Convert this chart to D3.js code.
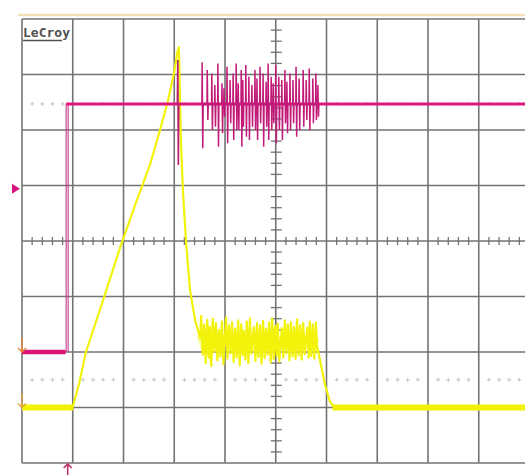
<!DOCTYPE html>
<html><head><meta charset="utf-8">
<script src="https://cdn.jsdelivr.net/npm/d3@7"></script>
<style>html,body{margin:0;padding:0;background:#fff;}svg{display:block;}</style>
</head><body>
<script>
// ---------- DATA (time and amplitude in screen divisions) ----------
const gridTimes = [0,1,2,3,4,5,6,7,8,9,10];
const gridLevels = [-4,-3,-2,-1,0,1,2,3,4];
const refLevels = [2.47, -2.5];          // dotted reference markers
const ch2Offset = 0.94;                  // magenta offset marker
const groundLevels = [-2.0, -3.0];       // left ground arrows
const triggerTime = 0.9;                 // bottom trigger arrow

// Magenta trace (channel 2): base levels, step and single spike
const magLow = -2.0, magHigh = 2.47, magStep = 0.87;
const magLowSeg = [[0,-2.0],[0.86,-2.0]];
const magHighSeg = [[0.87,2.47],[10,2.47]];
const magSpike = [[3.06,2.47],[3.07,3.26],[3.08,1.37],[3.09,2.47]];
const magBurstT  = [3.55,3.65,3.74,3.80,3.86,3.94,3.98,4.04,4.10,4.16,4.22,4.26,4.32,4.35,4.41,4.47,4.53,4.59,4.63,4.69,4.75,4.81,4.85,4.91,4.95,5.00,5.06,5.12,5.18,5.22,5.28,5.34,5.40,5.46,5.54,5.60,5.66,5.73,5.79,5.83];
const magBurstHi = [3.22,3.08,3.02,2.81,3.20,2.84,2.75,3.14,2.90,3.02,3.20,2.84,3.08,2.90,3.17,2.96,2.81,3.08,2.93,3.14,3.02,2.87,3.20,2.96,2.84,3.17,2.96,2.90,3.08,2.87,3.02,2.90,3.14,2.93,3.08,2.90,3.11,2.93,3.02,2.81];
const magBurstLo = [1.67,2.18,2.00,2.06,1.70,1.94,2.24,1.76,2.12,1.82,2.00,2.00,1.70,2.06,1.88,1.82,2.06,2.00,1.82,2.12,1.70,2.06,1.82,2.00,2.12,1.76,2.00,1.82,2.12,1.94,2.00,2.12,1.88,2.00,2.06,2.18,2.00,2.12,2.18,2.24];

// Yellow trace (channel 1)
const yelBase = -3.0;
const yelRise = [[1.00,-2.99],[1.13,-2.55],[1.26,-2.00],[1.60,-1.06],[1.93,-0.13],[2.23,0.65],[2.52,1.37],[2.72,2.00],[2.88,2.54],[3.00,3.05],[3.06,3.40],[3.09,3.49],[3.11,2.72],[3.13,1.82],[3.17,0.92],[3.23,0.02],[3.31,-0.88],[3.41,-1.42],[3.51,-1.75]];
const yelBurstT  = [3.53,3.59,3.65,3.70,3.76,3.82,3.88,3.94,4.02,4.08,4.14,4.20,4.26,4.32,4.37,4.43,4.49,4.57,4.63,4.69,4.75,4.81,4.87,4.93,4.99,5.04,5.12,5.18,5.24,5.30,5.36,5.42,5.48,5.54,5.62,5.67,5.73,5.79];
const yelBurstHi = [-1.35,-1.50,-1.42,-1.55,-1.40,-1.48,-1.60,-1.45,-1.38,-1.52,-1.47,-1.58,-1.43,-1.50,-1.62,-1.45,-1.40,-1.55,-1.48,-1.52,-1.44,-1.58,-1.46,-1.40,-1.53,-1.49,-1.57,-1.43,-1.50,-1.46,-1.55,-1.41,-1.52,-1.48,-1.56,-1.45,-1.50,-1.47];
const yelBurstLo = [-2.05,-2.20,-2.10,-2.25,-2.00,-2.15,-2.08,-2.22,-2.12,-2.02,-2.18,-2.10,-2.24,-2.06,-2.14,-2.20,-2.03,-2.16,-2.09,-2.21,-2.11,-2.05,-2.19,-2.13,-2.07,-2.17,-2.10,-2.02,-2.15,-2.08,-2.12,-2.06,-2.14,-2.04,-2.10,-2.07,-2.12,-2.00];
const yelFall = [[5.81,-1.87],[5.87,-2.14],[5.97,-2.59],[6.07,-2.90],[6.15,-2.99],[10,-3.0]];
const yelBaseSegs = [[0,1.01],[6.12,10]];

// ---------- DRAW ----------
const W = 525, H = 475;
const svg = d3.select("body").append("svg").attr("width", W).attr("height", H);
const x = d3.scaleLinear().domain([0,10]).range([22,529.5]);
const y = d3.scaleLinear().domain([-4,4]).range([463,19]);
const grid = "#737373";

// top beige rule
svg.append("line").attr("x1",18).attr("x2",W).attr("y1",15).attr("y2",15)
  .attr("stroke","#f2e2b6").attr("stroke-width",2.5);

// dotted reference crosses
const minorT = d3.range(0, 10.01, 0.2).filter(t => Math.abs(t - Math.round(t)) > 0.05);
refLevels.forEach(v => {
  minorT.forEach(t => {
    const g = svg.append("g").attr("stroke","#c4c4c4").attr("stroke-width",1);
    g.append("line").attr("x1",x(t)-2).attr("x2",x(t)+2).attr("y1",y(v)).attr("y2",y(v));
    g.append("line").attr("x1",x(t)).attr("x2",x(t)).attr("y1",y(v)-2).attr("y2",y(v)+2);
  });
});

// grid
svg.append("g").selectAll("line").data(gridTimes).join("line")
  .attr("x1",d=>x(d)).attr("x2",d=>x(d)).attr("y1",y(4)).attr("y2",y(-4))
  .attr("stroke",grid).attr("stroke-width",1.6);
svg.append("g").selectAll("line").data(gridLevels).join("line")
  .attr("x1",x(0)).attr("x2",W).attr("y1",d=>y(d)).attr("y2",d=>y(d))
  .attr("stroke",grid).attr("stroke-width",1.6);

// center axis minor ticks
svg.append("g").selectAll("line").data(minorT).join("line")
  .attr("x1",d=>x(d)).attr("x2",d=>x(d)).attr("y1",y(0)-4).attr("y2",y(0)+4)
  .attr("stroke",grid).attr("stroke-width",1.3);
const minorV = d3.range(-4, 4.01, 0.2).filter(v => Math.abs(v - Math.round(v)) > 0.05);
svg.append("g").selectAll("line").data(minorV).join("line")
  .attr("x1",x(5)-5).attr("x2",x(5)+6).attr("y1",d=>y(d)).attr("y2",d=>y(d))
  .attr("stroke",grid).attr("stroke-width",1.3);

// LeCroy label
svg.append("text").attr("x",23).attr("y",37).text("LeCroy")
  .attr("font-family","DejaVu Sans Mono").attr("font-weight","bold").attr("font-size",13)
  .attr("textLength",47).attr("lengthAdjust","spacingAndGlyphs").attr("fill","#4f4f4f");
svg.append("line").attr("x1",23).attr("x2",62).attr("y1",40.5).attr("y2",40.5)
  .attr("stroke","#4f4f4f").attr("stroke-width",1.4);

const line = d3.line().x(d=>x(d[0])).y(d=>y(d[1]));

// yellow trace
const yelPts = yelRise.slice();
yelBurstT.forEach((t,i) => { yelPts.push([t, yelBurstHi[i]]); yelPts.push([t+0.03, yelBurstLo[i]]); });
yelFall.forEach(p => yelPts.push(p));
svg.append("path").attr("d", line(yelBurstT.map((t,i)=>[t,(yelBurstHi[i]+yelBurstLo[i])/2])))
  .attr("fill","none").attr("stroke","#f6f640").attr("stroke-width",10).attr("stroke-opacity",0.45);
svg.append("path").attr("d", line([[0,yelBase]].concat(yelPts)))
  .attr("fill","none").attr("stroke","#f2f20a").attr("stroke-width",2.2).attr("stroke-linejoin","round");
svg.append("g").selectAll("line").data(yelBaseSegs).join("line")
  .attr("x1",d=>x(d[0])).attr("x2",d=>x(d[1])).attr("y1",y(yelBase)).attr("y2",y(yelBase))
  .attr("stroke","#f2f200").attr("stroke-width",6);

// magenta trace
[0, 2].forEach(dx => {
  svg.append("line").attr("x1",x(magStep)+dx).attr("x2",x(magStep)+dx).attr("y1",y(magLow)).attr("y2",y(magHigh))
    .attr("stroke","#c2388c").attr("stroke-width",1.1);
});
svg.append("path").attr("d", line(magHighSeg))
  .attr("fill","none").attr("stroke","#e0147c").attr("stroke-width",3);
svg.append("path").attr("d", line(magLowSeg))
  .attr("fill","none").attr("stroke","#dc1478").attr("stroke-width",4.5);
svg.append("path").attr("d", line(magSpike))
  .attr("fill","none").attr("stroke","#b82070").attr("stroke-width",1.6);
const magPts = [];
magBurstT.forEach((t,i) => {
  magPts.push([t-0.005, magHigh]); magPts.push([t, magBurstHi[i]]);
  magPts.push([t+0.012, magBurstLo[i]]); magPts.push([t+0.02, magHigh]);
});
svg.append("path").attr("d", line(magPts))
  .attr("fill","none").attr("stroke","#c21a78").attr("stroke-width",1.5);

// markers
const ty = y(ch2Offset);
svg.append("path").attr("d",`M12,${ty-5}L20,${ty}L12,${ty+5}Z`).attr("fill","#d6177e");
const gcols = ["#e5853e","#e3a23a"];
groundLevels.forEach((v,i) => {
  const gy = y(v);
  svg.append("path").attr("d",`M22,${gy-14}L22,${gy}M18,${gy-4}L22,${gy}L26,${gy-4}`)
    .attr("fill","none").attr("stroke",gcols[i]).attr("stroke-width",1.4);
});
const tx = x(triggerTime);
svg.append("path").attr("d",`M${tx},475L${tx},464M${tx-4},468L${tx},464L${tx+4},468`)
  .attr("fill","none").attr("stroke","#c2306e").attr("stroke-width",1.6);
</script>
</body></html>
